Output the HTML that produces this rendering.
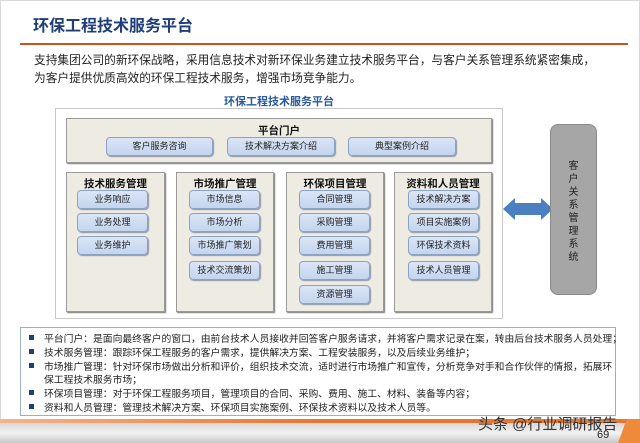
<!DOCTYPE html>
<html><head><meta charset="utf-8"><style>
*{margin:0;padding:0;box-sizing:border-box}
body{width:640px;height:443px;position:relative;overflow:hidden;background:#fff;font-family:"Liberation Sans","Noto Sans CJK SC",sans-serif;color:#222}
.a{position:absolute}
.btn{position:absolute;background:linear-gradient(#dbe6f6,#c3d5ee);border:1px solid #8aa2c4;border-radius:4px;box-shadow:1px 1px 1px #8a96a8;font-size:9px;text-align:center;line-height:17px;color:#222}
.col{position:absolute;background:#eeece2;border:1px solid #9a9a9a;box-shadow:1px 1px 1px #777;top:172px;height:140px}
.hd{position:absolute;top:3px;left:0;right:0;text-align:center;font-weight:bold;font-size:10.5px;color:#111}
.bl{position:absolute;left:44px;font-size:9.8px;color:#222;white-space:nowrap}
.sq{position:absolute;left:-15px;top:4px;width:5px;height:5px;background:#1f3e7a}
</style></head><body>
<div class="a" style="left:0;top:0;width:640px;height:443px;border:1px solid #d8d8d8"></div>
<div class="a" style="left:33px;top:12px;font-size:16px;font-weight:bold;color:#1f3e7a">环保工程技术服务平台</div>
<div class="a" style="left:20px;top:43px;width:608px;height:2px;background:#c8541c"></div>
<div class="a" style="left:34px;top:52px;font-size:11.7px;line-height:18px;color:#222;white-space:nowrap">支持集团公司的新环保战略，采用信息技术对新环保业务建立技术服务平台，与客户关系管理系统紧密集成，<br>为客户提供优质高效的环保工程技术服务，增强市场竞争能力。</div>
<div class="a" style="left:55px;top:93px;width:448px;text-align:center;font-size:11px;font-weight:bold;color:#2a5a9a">环保工程技术服务平台</div>
<div class="a" style="left:55px;top:108px;width:448px;height:211px;border:1px solid #c8c8c8;background:#fff"></div>
<div class="a" style="left:66px;top:118px;width:426px;height:45px;background:#eeece2;border:1px solid #9a9a9a;box-shadow:1px 1px 1px #777">
<div class="hd" style="top:4px">平台门户</div></div>
<div class="btn" style="left:106px;top:137px;width:107px">客户服务咨询</div>
<div class="btn" style="left:227px;top:137px;width:108px">技术解决方案介绍</div>
<div class="btn" style="left:348px;top:137px;width:108px">典型案例介绍</div>

<div class="col" style="left:66px;width:99px"><div class="hd">技术服务管理</div></div>
<div class="btn" style="left:77px;top:190px;width:71px">业务响应</div>
<div class="btn" style="left:77px;top:213px;width:71px">业务处理</div>
<div class="btn" style="left:77px;top:236px;width:71px">业务维护</div>

<div class="col" style="left:176px;width:98px"><div class="hd">市场推广管理</div></div>
<div class="btn" style="left:189px;top:190px;width:71px">市场信息</div>
<div class="btn" style="left:189px;top:213px;width:71px">市场分析</div>
<div class="btn" style="left:189px;top:236px;width:71px">市场推广策划</div>
<div class="btn" style="left:189px;top:261px;width:71px">技术交流策划</div>

<div class="col" style="left:286px;width:98px"><div class="hd">环保项目管理</div></div>
<div class="btn" style="left:299px;top:190px;width:71px">合同管理</div>
<div class="btn" style="left:299px;top:213px;width:71px">采购管理</div>
<div class="btn" style="left:299px;top:236px;width:71px">费用管理</div>
<div class="btn" style="left:299px;top:261px;width:71px">施工管理</div>
<div class="btn" style="left:299px;top:285px;width:71px">资源管理</div>

<div class="col" style="left:394px;width:98px"><div class="hd">资料和人员管理</div></div>
<div class="btn" style="left:408px;top:190px;width:71px">技术解决方案</div>
<div class="btn" style="left:408px;top:213px;width:71px">项目实施案例</div>
<div class="btn" style="left:408px;top:236px;width:71px">环保技术资料</div>
<div class="btn" style="left:408px;top:261px;width:71px">技术人员管理</div>

<svg class="a" style="left:503px;top:197px" width="50" height="24"><polygon points="0,12 12,1 12,6 38,6 38,1 50,12 38,23 38,18 12,18 12,23" fill="#4a7fc0"/></svg>
<div class="a" style="left:550px;top:124px;width:47px;height:171px;background:#a6a6a6;border:1px solid #8a8a8a;border-radius:8px"></div>
<div class="a" style="left:550px;top:160px;width:47px;text-align:center;font-size:10px;line-height:13px;color:#222">客<br>户<br>关<br>系<br>管<br>理<br>系<br>统</div>

<div class="a" style="left:20px;top:327px;width:596px;height:89px;border:1px solid #9ab0c8;background:#fff"></div>
<div class="bl" style="top:331px"><span class="sq"></span>平台门户：是面向最终客户的窗口，由前台技术人员接收并回答客户服务请求，并将客户需求记录在案，转由后台技术服务人员处理；</div>
<div class="bl" style="top:345px"><span class="sq"></span>技术服务管理：跟踪环保工程服务的客户需求，提供解决方案、工程安装服务，以及后续业务维护；</div>
<div class="bl" style="top:359px"><span class="sq"></span>市场推广管理：针对环保市场做出分析和评价，组织技术交流，适时进行市场推广和宣传，分析竞争对手和合作伙伴的情报，拓展环</div>
<div class="bl" style="top:372px">保工程技术服务市场；</div>
<div class="bl" style="top:386px"><span class="sq"></span>环保项目管理：对于环保工程服务项目，管理项目的合同、采购、费用、施工、材料、装备等内容；</div>
<div class="bl" style="top:400px"><span class="sq"></span>资料和人员管理：管理技术解决方案、环保项目实施案例、环保技术资料以及技术人员等。</div>

<div class="a" style="left:0;top:419px;width:640px;height:4px;background:linear-gradient(90deg,#f6b48a,#e8762e 50%,#e8762e)"></div>
<div class="a" style="left:0;top:423px;width:640px;height:20px;background:linear-gradient(#d8d8d8,#f2f2f2 50%,#c8c8c8)"></div>
<div class="a" style="left:618px;top:419px;width:22px;height:24px;background:#ee8a3a;clip-path:polygon(40% 0,100% 0,100% 100%,0 100%)"></div>
<div class="a" style="left:478px;top:413px;font-size:15px;color:#333">头条 @行业调研报告</div>
<div class="a" style="left:597px;top:429px;font-size:11px;color:#222">69</div>
</body></html>
